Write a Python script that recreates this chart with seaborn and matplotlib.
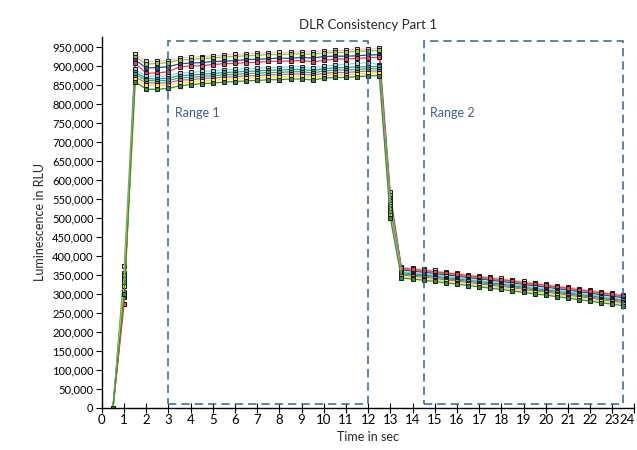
import pandas as pd
import matplotlib.pyplot as plt
import seaborn as sns
from matplotlib.patches import Rectangle
from matplotlib.ticker import FuncFormatter

# Data (luminescence in thousands of RLU)
TIME = [0.5, 1.0, 1.5, 2.0, 2.5, 3.0, 3.5, 4.0, 4.5, 5.0, 5.5, 6.0, 6.5, 7.0, 7.5, 8.0,
        8.5, 9.0, 9.5, 10.0, 10.5, 11.0, 11.5, 12.0, 12.5, 13.0, 13.5, 14.0, 14.5, 15.0,
        15.5, 16.0, 16.5, 17.0, 17.5, 18.0, 18.5, 19.0, 19.5, 20.0, 20.5, 21.0, 21.5,
        22.0, 22.5, 23.0, 23.5]

pink = [0, 372, 931, 911, 912, 913, 920, 922, 924, 926, 928, 930, 931, 933, 934, 935,
        936, 937, 937, 939, 940, 941, 943, 944, 946, 568, 370, 367, 364, 361, 357, 354,
        350, 347, 343, 340, 336, 332, 328, 325, 321, 317, 313, 309, 305, 301, 297]
lime = [0, 355, 924, 904, 906, 908, 915, 916, 919, 920, 923, 924, 926, 927, 929, 929,
        931, 931, 930, 933, 935, 935, 938, 939, 940, 560, 365, 362, 359, 356, 352, 349,
        345, 342, 338, 335, 331, 327, 323, 320, 316, 312, 308, 304, 300, 296, 292]
navy = [0, 290, 915, 894, 895, 897, 905, 907, 908, 911, 912, 913, 916, 917, 918, 920,
        919, 922, 920, 924, 925, 925, 926, 928, 929, 552, 362, 359, 356, 353, 349, 346,
        342, 339, 335, 332, 328, 324, 320, 317, 313, 309, 305, 301, 297, 293, 289]
red = [0, 272, 906, 880, 881, 884, 897, 899, 900, 903, 905, 906, 908, 909, 911, 912,
       912, 914, 910, 914, 917, 918, 919, 921, 922, 545, 367, 364, 361, 358, 354, 351,
       347, 344, 340, 337, 333, 329, 325, 322, 318, 314, 310, 306, 302, 298, 294]
cyan = [0, 340, 890, 872, 872, 874, 881, 882, 885, 886, 889, 890, 892, 893, 895, 895,
        897, 897, 893, 899, 901, 904, 906, 908, 903, 537, 358, 355, 352, 349, 345, 342,
        338, 335, 331, 328, 324, 320, 316, 313, 309, 305, 301, 297, 293, 289, 285]
teal = [0, 330, 883, 866, 865, 867, 874, 875, 878, 879, 882, 883, 885, 886, 888, 888,
        890, 890, 887, 892, 894, 895, 897, 897, 898, 530, 355, 352, 349, 346, 342, 339,
        335, 332, 328, 325, 321, 317, 313, 310, 306, 302, 298, 294, 290, 286, 282]
green = [0, 350, 877, 861, 860, 861, 868, 869, 872, 873, 876, 877, 879, 880, 882, 882,
         884, 884, 881, 886, 888, 889, 890, 892, 892, 522, 352, 349, 346, 343, 339, 336,
         332, 329, 325, 322, 318, 314, 310, 307, 303, 299, 295, 291, 287, 283, 279]
purple = [0, 305, 870, 855, 854, 855, 862, 863, 866, 867, 870, 871, 873, 874, 876, 876,
          878, 878, 875, 880, 882, 882, 884, 886, 886, 514, 349, 346, 343, 340, 336, 333,
          329, 326, 322, 319, 315, 311, 307, 304, 300, 296, 292, 288, 284, 280, 276]
yellow = [0, 320, 864, 848, 848, 849, 855, 857, 860, 861, 864, 865, 867, 868, 870, 870,
          872, 872, 869, 874, 876, 876, 878, 880, 881, 506, 345, 342, 339, 336, 332, 329,
          325, 322, 318, 315, 311, 307, 303, 300, 296, 292, 288, 284, 280, 276, 272]
dkgreen = [0, 298, 857, 838, 838, 840, 847, 850, 853, 854, 857, 858, 860, 861, 863, 863,
           865, 865, 862, 867, 869, 869, 871, 873, 874, 498, 341, 338, 335, 332, 328, 325,
           321, 318, 314, 311, 307, 303, 299, 296, 292, 288, 284, 280, 276, 272, 268]

SERIES = {
    "pink": pink, "lime": lime, "navy": navy, "red": red, "cyan": cyan,
    "teal": teal, "green": green, "purple": purple, "yellow": yellow, "dkgreen": dkgreen,
}
PALETTE = {
    "pink": "#f7c0ca", "lime": "#8cc63f", "navy": "#34449a", "red": "#ea3f55",
    "cyan": "#8bd8ea", "teal": "#2a9bbb", "green": "#46ad46", "purple": "#b565b5",
    "yellow": "#f4e81a", "dkgreen": "#3a8a3e",
}

X_TICKS = list(range(0, 25))
Y_TICKS = list(range(0, 950001, 50000))
RANGES = [("Range 1", 3.0, 12.0), ("Range 2", 14.5, 23.5)]
BOX_COLOR = "#41719c"


def build_frame():
    rows = []
    for name, vals in SERIES.items():
        for t, v in zip(TIME, vals):
            rows.append({"time": t, "rlu": v * 1000, "series": name})
    return pd.DataFrame(rows)


def main():
    df = build_frame()

    sns.set_style("white")
    plt.rcParams["font.family"] = ["Lato", "DejaVu Sans"]

    fig = plt.figure(figsize=(6.37, 4.5), dpi=100)
    ax = fig.add_axes([0.160, 0.0944, 0.836, 0.823])

    sns.lineplot(
        data=df, x="time", y="rlu", hue="series", palette=PALETTE,
        hue_order=list(SERIES.keys()), estimator=None, sort=False,
        linewidth=0.9, marker="s", markersize=2.8,
        markeredgecolor="#1a1a1a", markeredgewidth=0.7,
        legend=False, ax=ax,
    )

    # dashed range boxes
    for label, x0, x1 in RANGES:
        ax.add_patch(Rectangle((x0, 8000), x1 - x0, 957000, fill=False,
                               edgecolor=BOX_COLOR, linestyle=(0, (5, 3)),
                               linewidth=1.2, zorder=5))
        ax.text(x0 + 0.3, 775000, label, color="#3b5f87", fontsize=9,
                va="center", ha="left")

    ax.set_xlim(0, 24)
    ax.set_ylim(0, 975000)
    ax.set_xticks(X_TICKS, [str(t) for t in X_TICKS])
    ax.set_yticks(Y_TICKS)
    ax.yaxis.set_major_formatter(FuncFormatter(lambda v, p: f"{int(v):,}"))

    for side in ["top", "right"]:
        ax.spines[side].set_visible(False)
    for side in ["left", "bottom"]:
        ax.spines[side].set_color("black")
        ax.spines[side].set_linewidth(1.0)

    ax.tick_params(axis="y", direction="out", length=4, width=0.8,
                   labelsize=8, pad=2, left=True, colors="black")
    ax.tick_params(axis="x", direction="inout", length=7, width=0.8,
                   labelsize=9.5, pad=1, bottom=True, colors="black")

    # last x label sits against the right edge of the figure
    ax.get_xticklabels()[-1].set_horizontalalignment("right")

    ax.set_title("DLR Consistency Part 1", fontsize=9.5, pad=6)
    ax.set_xlabel("Time in sec", fontsize=9, labelpad=4)
    ax.set_ylabel("Luminescence in RLU", fontsize=9, labelpad=4)

    fig.savefig("out.png", dpi=100)
    plt.close(fig)


if __name__ == "__main__":
    main()
